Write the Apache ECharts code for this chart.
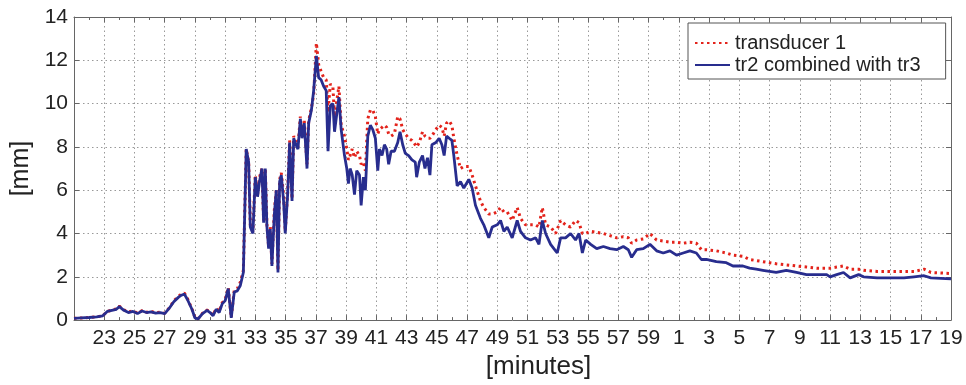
<!DOCTYPE html>
<html>
<head>
<meta charset="utf-8">
<script src="https://cdn.jsdelivr.net/npm/echarts@6.0.0/dist/echarts.min.js"></script>
<style>
html, body { margin: 0; padding: 0; background: #fff; }
#chart { width: 966px; height: 385px; }
</style>
</head>
<body>
<div id="chart"></div>
<script>
// time axis starts at minute 21 and runs past the hour up to 19 (= 79)
const START = 21;
const END = 79;

const minutes = [
	21.0, 21.5, 22.0, 22.5, 22.9, 23.2, 23.5, 23.8, 24.0, 24.3, 24.6, 24.9, 25.2, 25.5, 25.8,
	26.1, 26.4, 26.7, 27.0, 27.3, 27.6, 27.9, 28.1, 28.3, 28.5, 28.8, 29.0, 29.2, 29.5, 29.8,
	30.0, 30.2, 30.4, 30.6, 30.8, 31.0, 31.2, 31.4, 31.6, 31.8, 32.0, 32.2, 32.39, 32.55, 32.66,
	32.83, 32.99, 33.14, 33.27, 33.43, 33.54, 33.65, 33.76, 33.87, 33.98, 34.09, 34.25, 34.38, 34.49, 34.6,
	34.71, 34.86, 34.97, 35.13, 35.26, 35.42, 35.53, 35.68, 35.81, 35.97, 36.08, 36.23, 36.41, 36.52, 36.7,
	36.85, 37.03, 37.18, 37.34, 37.51, 37.68, 37.8, 37.95, 38.12, 38.23, 38.52, 38.67, 38.89, 39.04, 39.15,
	39.26, 39.4, 39.55, 39.7, 39.88, 39.99, 40.14, 40.27, 40.43, 40.6, 40.76, 40.93, 41.09, 41.2, 41.37,
	41.53, 41.68, 41.81, 41.97, 42.19, 42.41, 42.56, 42.74, 42.91, 43.13, 43.35, 43.57, 43.66, 43.84, 44.05,
	44.21, 44.38, 44.54, 44.67, 44.93, 45.15, 45.33, 45.48, 45.64, 45.81, 45.99, 46.12, 46.34, 46.56, 46.78,
	47.11, 47.33, 47.55, 47.88, 48.1, 48.43, 48.66, 48.99, 49.21, 49.43, 49.65, 49.98, 50.31, 50.53, 50.86,
	51.19, 51.53, 51.75, 51.97, 52.19, 52.52, 52.85, 52.96, 53.18, 53.51, 53.84, 54.17, 54.4, 54.62, 54.84,
	55.17, 55.57, 56.01, 56.45, 56.89, 57.33, 57.66, 57.88, 58.21, 58.65, 59.09, 59.53, 59.97, 60.41, 60.85,
	61.29, 61.73, 62.16, 62.49, 62.82, 63.48, 64.14, 64.58, 65.24, 65.68, 66.12, 66.56, 67.0, 67.44, 68.11,
	68.78, 69.44, 70.11, 70.78, 71.0, 71.44, 71.89, 72.33, 72.89, 73.22, 74.11, 75.0, 75.89, 76.56, 77.22,
	77.67, 79.0
];

// transducer 1 [mm]
const tr1 = [
	0.08, 0.1, 0.12, 0.15, 0.2, 0.4, 0.46, 0.52, 0.64, 0.47, 0.38, 0.42, 0.32, 0.44, 0.36,
	0.4, 0.34, 0.36, 0.32, 0.56, 0.88, 1.1, 1.2, 1.25, 1.0, 0.52, 0.12, 0.06, 0.32, 0.47,
	0.38, 0.22, 0.55, 0.4, 0.8, 0.95, 1.5, 0.12, 1.4, 1.45, 1.75, 2.3, 7.9, 7.3, 4.4,
	4.1, 6.7, 5.8, 6.6, 7.0, 4.6, 7.0, 4.4, 3.4, 4.3, 2.6, 5.1, 6.0, 2.3, 6.5,
	6.8, 5.8, 4.1, 5.9, 8.3, 5.6, 8.5, 8.2, 8.0, 9.4, 8.5, 9.2, 7.2, 9.2, 9.8,
	10.4, 12.8, 11.8, 11.5, 11.2, 11.1, 9.6, 10.9, 10.8, 9.4, 10.8, 9.0, 8.5, 7.9, 7.4,
	7.6, 7.9, 7.5, 7.8, 7.6, 7.2, 7.3, 6.9, 9.3, 9.7, 9.7, 9.4, 8.6, 8.8, 8.9,
	9.0, 8.9, 8.6, 8.5, 8.6, 9.4, 9.3, 8.8, 8.6, 8.4, 8.3, 8.1, 8.0, 8.2, 8.7,
	8.5, 8.4, 8.4, 8.5, 8.8, 9.0, 8.9, 8.5, 9.1, 9.2, 9.0, 8.4, 7.6, 7.0, 7.1,
	7.1, 6.7, 6.2, 5.5, 5.2, 4.9, 4.9, 5.0, 5.2, 5.0, 5.0, 4.6, 5.2, 4.7, 4.4,
	4.4, 4.4, 4.3, 5.2, 4.4, 4.3, 4.0, 4.0, 4.6, 4.4, 4.3, 4.6, 4.5, 4.0, 4.0,
	4.1, 4.05, 4.0, 3.9, 3.8, 3.85, 3.8, 3.55, 3.7, 3.75, 4.0, 3.7, 3.65, 3.6, 3.6,
	3.55, 3.6, 3.55, 3.25, 3.25, 3.2, 3.1, 3.0, 2.95, 2.8, 2.75, 2.7, 2.65, 2.6, 2.55,
	2.5, 2.45, 2.4, 2.4, 2.4, 2.45, 2.5, 2.35, 2.35, 2.3, 2.25, 2.25, 2.25, 2.25, 2.35,
	2.2, 2.15
];

// tr2 combined with tr3 [mm]
const tr23 = [
	0.08, 0.1, 0.12, 0.15, 0.2, 0.4, 0.45, 0.5, 0.62, 0.45, 0.35, 0.4, 0.3, 0.42, 0.35,
	0.38, 0.32, 0.35, 0.3, 0.55, 0.85, 1.05, 1.15, 1.2, 0.95, 0.5, 0.1, 0.05, 0.3, 0.45,
	0.35, 0.2, 0.5, 0.35, 0.75, 0.9, 1.45, 0.1, 1.3, 1.35, 1.6, 2.2, 7.9, 7.3, 4.3,
	4.0, 6.6, 5.7, 6.4, 7.0, 4.5, 7.0, 4.3, 3.3, 4.2, 2.5, 4.9, 6.0, 2.2, 6.4,
	6.7, 5.5, 4.0, 5.8, 8.2, 5.5, 8.4, 8.1, 7.9, 9.3, 8.4, 9.1, 7.0, 9.1, 9.7,
	10.6, 12.2, 11.2, 11.1, 10.8, 10.6, 7.8, 9.9, 10.0, 8.7, 10.3, 8.8, 7.6, 7.0, 6.3,
	7.0, 6.7, 5.8, 6.9, 6.7, 5.3, 6.6, 6.0, 8.5, 9.0, 8.8, 8.4, 6.9, 7.9, 7.6,
	8.1, 7.9, 7.2, 7.8, 7.8, 8.2, 8.7, 8.1, 7.7, 7.6, 7.4, 7.3, 6.6, 7.3, 7.6,
	7.0, 7.5, 6.7, 8.1, 8.2, 8.4, 8.1, 7.6, 8.5, 8.4, 8.3, 7.6, 6.2, 6.4, 6.1,
	6.5, 6.1, 5.3, 4.7, 4.4, 3.8, 4.3, 4.4, 4.6, 4.1, 4.3, 3.8, 4.6, 4.1, 3.8,
	3.7, 3.8, 3.5, 4.6, 4.0, 3.5, 3.2, 3.1, 3.8, 3.8, 4.0, 3.7, 4.0, 3.1, 3.7,
	3.5, 3.3, 3.4, 3.3, 3.25, 3.4, 3.25, 2.9, 3.25, 3.3, 3.5, 3.2, 3.1, 3.2, 3.0,
	3.1, 3.2, 3.1, 2.8, 2.8, 2.7, 2.65, 2.5, 2.5, 2.4, 2.35, 2.3, 2.25, 2.2, 2.3,
	2.2, 2.1, 2.1, 2.1, 2.0, 2.1, 2.2, 1.95, 2.1, 2.0, 1.95, 1.95, 1.95, 2.0, 2.05,
	1.95, 1.9
];

const seriesNames = ["transducer 1", "tr2 combined with tr3"];

const FONT = "Liberation Sans";
const AXIS_COLOR = "#666";
const TEXT_COLOR = "#222";

const toPoints = values => minutes.map((m, i) => [m - START, values[i]]);

const chart = echarts.init(document.getElementById("chart"));

const frameAxis = {
	axisLine: { show: true, onZero: false, lineStyle: { color: AXIS_COLOR, width: 1 } },
	axisTick: { show: true, inside: true, length: 5, lineStyle: { color: AXIS_COLOR } }
};

const option = {
	animation: false,
	backgroundColor: "#fff",
	grid: {
		left: 74,
		right: 15,
		top: 17,
		bottom: 60,
		containLabel: false
	},
	legend: {
		orient: "vertical",
		left: 688,
		top: 23,
		padding: [9, 25, 3, 6],
		itemGap: 0,
		itemWidth: 35,
		itemHeight: 14,
		backgroundColor: "#fff",
		borderColor: "#555",
		borderWidth: 1,
		// hide the marker circle, keep only the line sample
		itemStyle: { opacity: 0 },
		textStyle: { fontFamily: FONT, fontSize: 20, color: TEXT_COLOR, lineHeight: 22 },
		data: seriesNames
	},
	xAxis: [{
		type: "value",
		position: "bottom",
		min: 0,
		max: END - START,
		interval: 2,
		...frameAxis,
		minorTick: { show: true, splitNumber: 2, length: 3, lineStyle: { color: AXIS_COLOR } },
		axisLabel: {
			fontFamily: FONT,
			fontSize: 21,
			color: TEXT_COLOR,
			margin: 8,
			formatter: v => v === 0 ? "" : String((v + START) % 60)
		},
		splitLine: { show: true, lineStyle: { color: "#999", width: 1, type: [1.5, 3] } },
		name: "[minutes]",
		nameLocation: "middle",
		nameGap: 30,
		nameTextStyle: { fontFamily: FONT, fontSize: 26, color: TEXT_COLOR, padding: [0, 0, 0, 52] }
	}, {
		type: "value",
		position: "top",
		min: 0,
		max: END - START,
		interval: 2,
		...frameAxis,
		minorTick: { show: true, splitNumber: 2, length: 3, lineStyle: { color: AXIS_COLOR } },
		axisLabel: { show: false },
		splitLine: { show: false }
	}],
	yAxis: [{
		type: "value",
		position: "left",
		min: 0,
		max: 14,
		interval: 2,
		...frameAxis,
		axisLabel: { fontFamily: FONT, fontSize: 21, color: TEXT_COLOR, margin: 6 },
		splitLine: { show: true, lineStyle: { color: "#999", width: 1, type: [1.5, 3] } },
		name: "[mm]",
		nameLocation: "middle",
		nameGap: 35,
		nameTextStyle: { fontFamily: FONT, fontSize: 25, color: TEXT_COLOR }
	}, {
		type: "value",
		position: "right",
		min: 0,
		max: 14,
		interval: 2,
		...frameAxis,
		axisLabel: { show: false },
		splitLine: { show: false }
	}],
	series: [{
		name: seriesNames[0],
		type: "line",
		data: toPoints(tr1),
		symbol: "none",
		z: 2,
		itemStyle: { color: "#e3231b" },
		lineStyle: { color: "#e3231b", width: 3, type: [2.5, 3.5] }
	}, {
		name: seriesNames[1],
		type: "line",
		data: toPoints(tr23),
		symbol: "none",
		z: 3,
		itemStyle: { color: "#282d8e" },
		lineStyle: { color: "#282d8e", width: 2.8 }
	}]
};

chart.setOption(option);
window.onresize = chart.resize;
</script>
</body>
</html>
